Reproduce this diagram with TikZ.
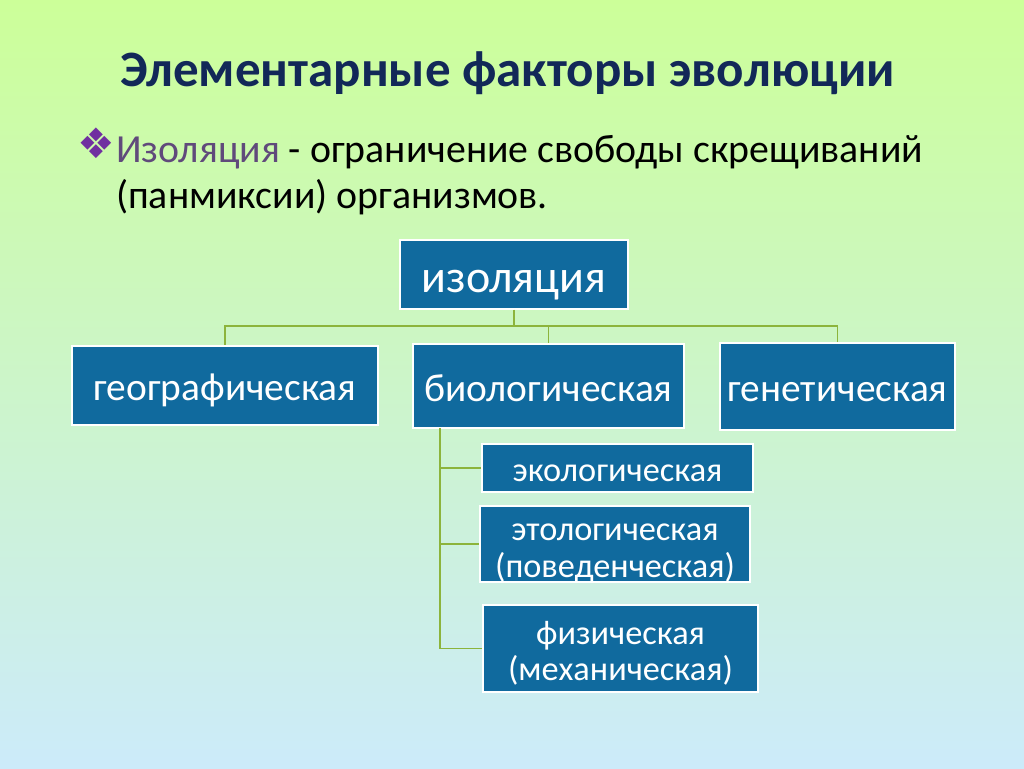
\documentclass[tikz,border=0pt]{standalone}
\usepackage{fontspec}
\setmainfont{Carlito}
\newfontfamily\symfont{DejaVu Sans}
\definecolor{boxblue}{RGB}{16,106,158}
\definecolor{titleblue}{RGB}{18,40,88}
\definecolor{linkgreen}{RGB}{140,180,60}
\definecolor{bulletviolet}{RGB}{112,48,160}
\definecolor{termviolet}{RGB}{96,74,123}
\definecolor{topgreen}{RGB}{204,255,153}
\definecolor{bottomblue}{RGB}{204,235,250}
\tikzset{
  factor/.style={draw=white, line width=1.2pt, fill=boxblue, text=white, inner sep=0pt, align=center},
  link/.style={draw=linkgreen, line width=1.4pt}
}
\begin{document}
\begin{tikzpicture}[x=1pt, y=-1pt]
\shade[top color=topgreen, bottom color=bottomblue] (0,0) rectangle (1024,768);
\useasboundingbox (0,0) rectangle (1024,768);
% heading and definition
\node[anchor=base, text=titleblue, font=\fontsize{51}{55}\selectfont\bfseries, inner sep=0pt] (title) at (507.5,86) {Элементарные факторы эволюции};
\node[anchor=base west, text=bulletviolet, font=\symfont\fontsize{42}{46}\selectfont, inner sep=0pt] (bullet) at (77,158) {❖};
\node[anchor=base west, font=\fontsize{39.8}{46}\selectfont, inner sep=0pt] (def1) at (116,162) {\textcolor{termviolet}{Изоляция} - ограничение свободы скрещиваний};
\node[anchor=base west, font=\fontsize{39.8}{46}\selectfont, inner sep=0pt] (def2) at (116,208) {(панмиксии) организмов.};
% boxes
\node[factor, text height=41pt, text depth=5.5pt, minimum width=228pt, minimum height=69pt, font=\fontsize{46}{50}\selectfont] (iso) at (514,274.5) {изоляция};
\node[factor, text height=35.5pt, text depth=4.7pt, minimum width=306pt, minimum height=79pt, font=\fontsize{39.4}{42}\selectfont] (geo) at (225,385.5) {географическая};
\node[factor, text height=35.5pt, text depth=4.7pt, minimum width=271pt, minimum height=84pt, font=\fontsize{39.4}{42}\selectfont] (bio) at (548.5,386) {биологическая};
\node[factor, text height=35.5pt, text depth=4.7pt, minimum width=235pt, minimum height=87pt, font=\fontsize{39.4}{42}\selectfont] (gen) at (837.5,386.5) {генетическая};
\node[factor, text height=31pt, text depth=4pt, minimum width=271pt, minimum height=48pt, font=\fontsize{34.3}{37}\selectfont] (eco) at (617.5,468) {экологическая};
\node[factor, text height=71pt, text depth=5pt, minimum width=270pt, minimum height=68pt, font=\fontsize{34.3}{37}\selectfont] (etho) at (615,544) {этологическая\\(поведенческая)};
\node[factor, text height=68pt, text depth=5pt, minimum width=275pt, minimum height=87pt, font=\fontsize{34.3}{36}\selectfont] (phys) at (620.5,648.5) {физическая\\(механическая)};
% connectors
\coordinate (bus) at (514,326);
\coordinate (trunk) at (440,428);
\draw[link] (iso.south) -- (bus) -| (geo.north);
\draw[link] (bus) -| (bio.north);
\draw[link] (bus) -| (gen.north);
\draw[link] (trunk) -- (trunk |- phys.west) -- (phys.west);
\draw[link] (trunk |- eco.west) -- (eco.west);
\draw[link] (trunk |- etho.west) -- (etho.west);
\end{tikzpicture}
\end{document}
